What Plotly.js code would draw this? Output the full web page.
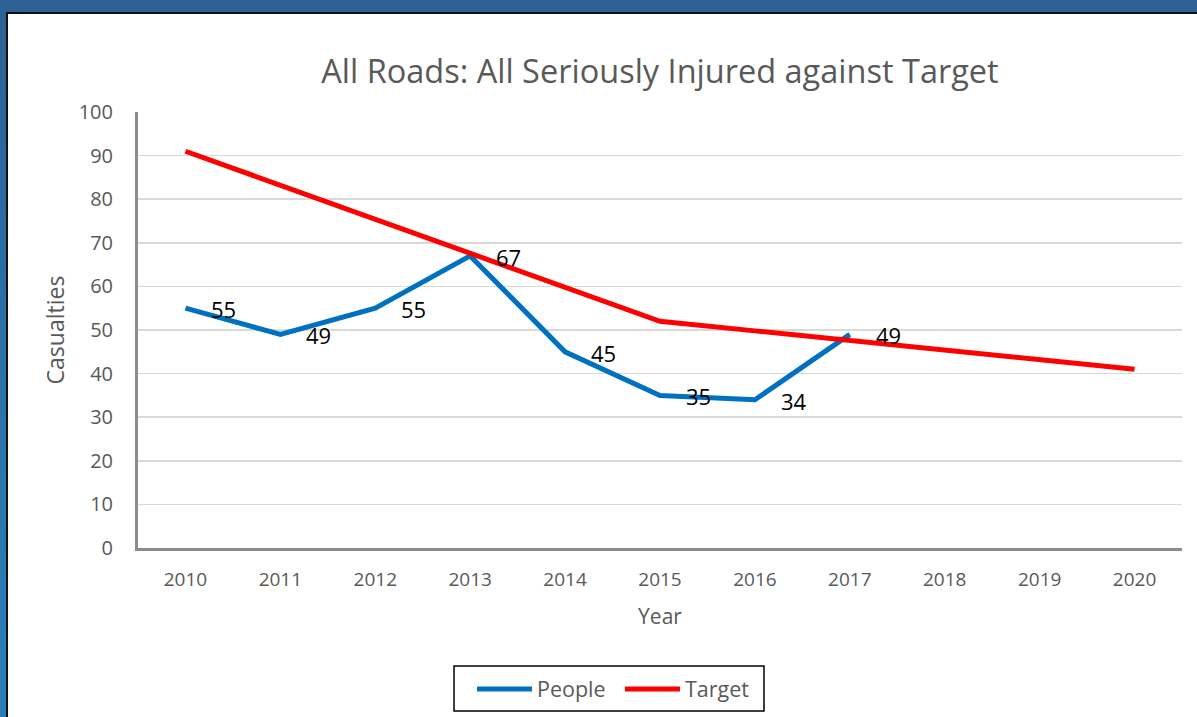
<!DOCTYPE html>
<html>
<head>
<meta charset="utf-8">
<script src="https://cdn.plot.ly/plotly-3.0.1.min.js"></script>
<style>
  html, body { margin:0; padding:0; }
  body { width:1197px; height:717px; overflow:hidden;
         background: linear-gradient(to bottom, #2d6195 0%, #2b72a8 50%, #2a7fb9 100%); position:relative; }
  #frame { position:absolute; left:6px; top:12px; width:1191px; height:705px;
           border-left:2px solid #111; border-top:2px solid #111; background:#fff; box-sizing:border-box; }
  #chart { position:absolute; left:0px; top:0px; width:1189px; height:703px; }
</style>
</head>
<body>
<div id="frame"><div id="chart"></div></div>
<script>
const years = ["2010","2011","2012","2013","2014","2015","2016","2017","2018","2019","2020"];
const peopleYears = ["2010","2011","2012","2013","2014","2015","2016","2017"];
const peopleValues = [55, 49, 55, 67, 45, 35, 34, 49];
const targetValues = [91, 83.2, 75.4, 67.6, 59.8, 52, 49.8, 47.6, 45.4, 43.2, 41];
const yTicks = [0,10,20,30,40,50,60,70,80,90,100];

const FONT = "Open Sans, sans-serif";
const GREY = "#595959";

const traces = [
  { x: peopleYears, y: peopleValues, name: "People", type: "scatter", mode: "lines",
    line: { color: "#0070C0", width: 5 } },
  { x: years, y: targetValues, name: "Target", type: "scatter", mode: "lines",
    line: { color: "#FF0000", width: 5 } }
];

const labelAnnotations = peopleYears.map(function (yr, i) {
  return {
    xref: "x", yref: "y", x: years.indexOf(yr), y: peopleValues[i],
    text: String(peopleValues[i]), showarrow: false,
    xanchor: "left", yanchor: "middle", xshift: 24, yshift: -1,
    font: { family: FONT, size: 22, color: "#000000" }
  };
});

const layout = {
  width: 1189, height: 703,
  paper_bgcolor: "#fff", plot_bgcolor: "#fff",
  margin: { l: 130, r: 15, t: 98, b: 169, pad: 0, autoexpand: false },
  font: { family: FONT, color: GREY },
  title: { text: "All Roads: All Seriously Injured against Target",
           font: { family: FONT, size: 32.5, color: GREY },
           x: 0.5, xref: "paper", y: 1 - 58/703, yref: "container", yanchor: "middle" },
  xaxis: { type: "category", categoryorder: "array", categoryarray: years, automargin: false,
           range: [-0.5, 10.5], showgrid: false, zeroline: false,
           showline: true, linecolor: "#8c8c8c", linewidth: 3,
           ticks: "", ticklabelstandoff: 12,
           tickfont: { family: FONT, size: 19, color: GREY },
           title: { text: "Year", font: { family: FONT, size: 21, color: GREY }, standoff: 19 } },
  yaxis: { range: [0, 100], tickvals: yTicks, ticktext: yTicks.map(String), automargin: false,
           showgrid: true, gridcolor: "#d9d9d9", gridwidth: 1.5, zeroline: false,
           showline: true, linecolor: "#8c8c8c", linewidth: 3,
           ticks: "", ticklabelstandoff: 18,
           tickfont: { family: FONT, size: 20, color: GREY },
           title: { text: "Casualties", font: { family: FONT, size: 23, color: GREY }, standoff: 8 } },
  showlegend: true,
  legend: { orientation: "h", xref: "container", yref: "container",
            x: 464/1189, xanchor: "left", y: 1 - 675/703, yanchor: "middle",
            borderwidth: 0, bgcolor: "rgba(0,0,0,0)",
            font: { family: FONT, size: 21.5, color: GREY }, itemwidth: 55, entrywidth: 78 },
  shapes: [
    { type: "rect", xref: "paper", yref: "paper", x0: 0.3027, x1: 0.5996, y0: -0.3739, y1: -0.2706,
      line: { color: "#000", width: 1.5 }, fillcolor: "rgba(0,0,0,0)" }
  ],
  annotations: labelAnnotations
};

Plotly.newPlot("chart", traces, layout, { displayModeBar: false, staticPlot: true });
</script>
</body>
</html>
